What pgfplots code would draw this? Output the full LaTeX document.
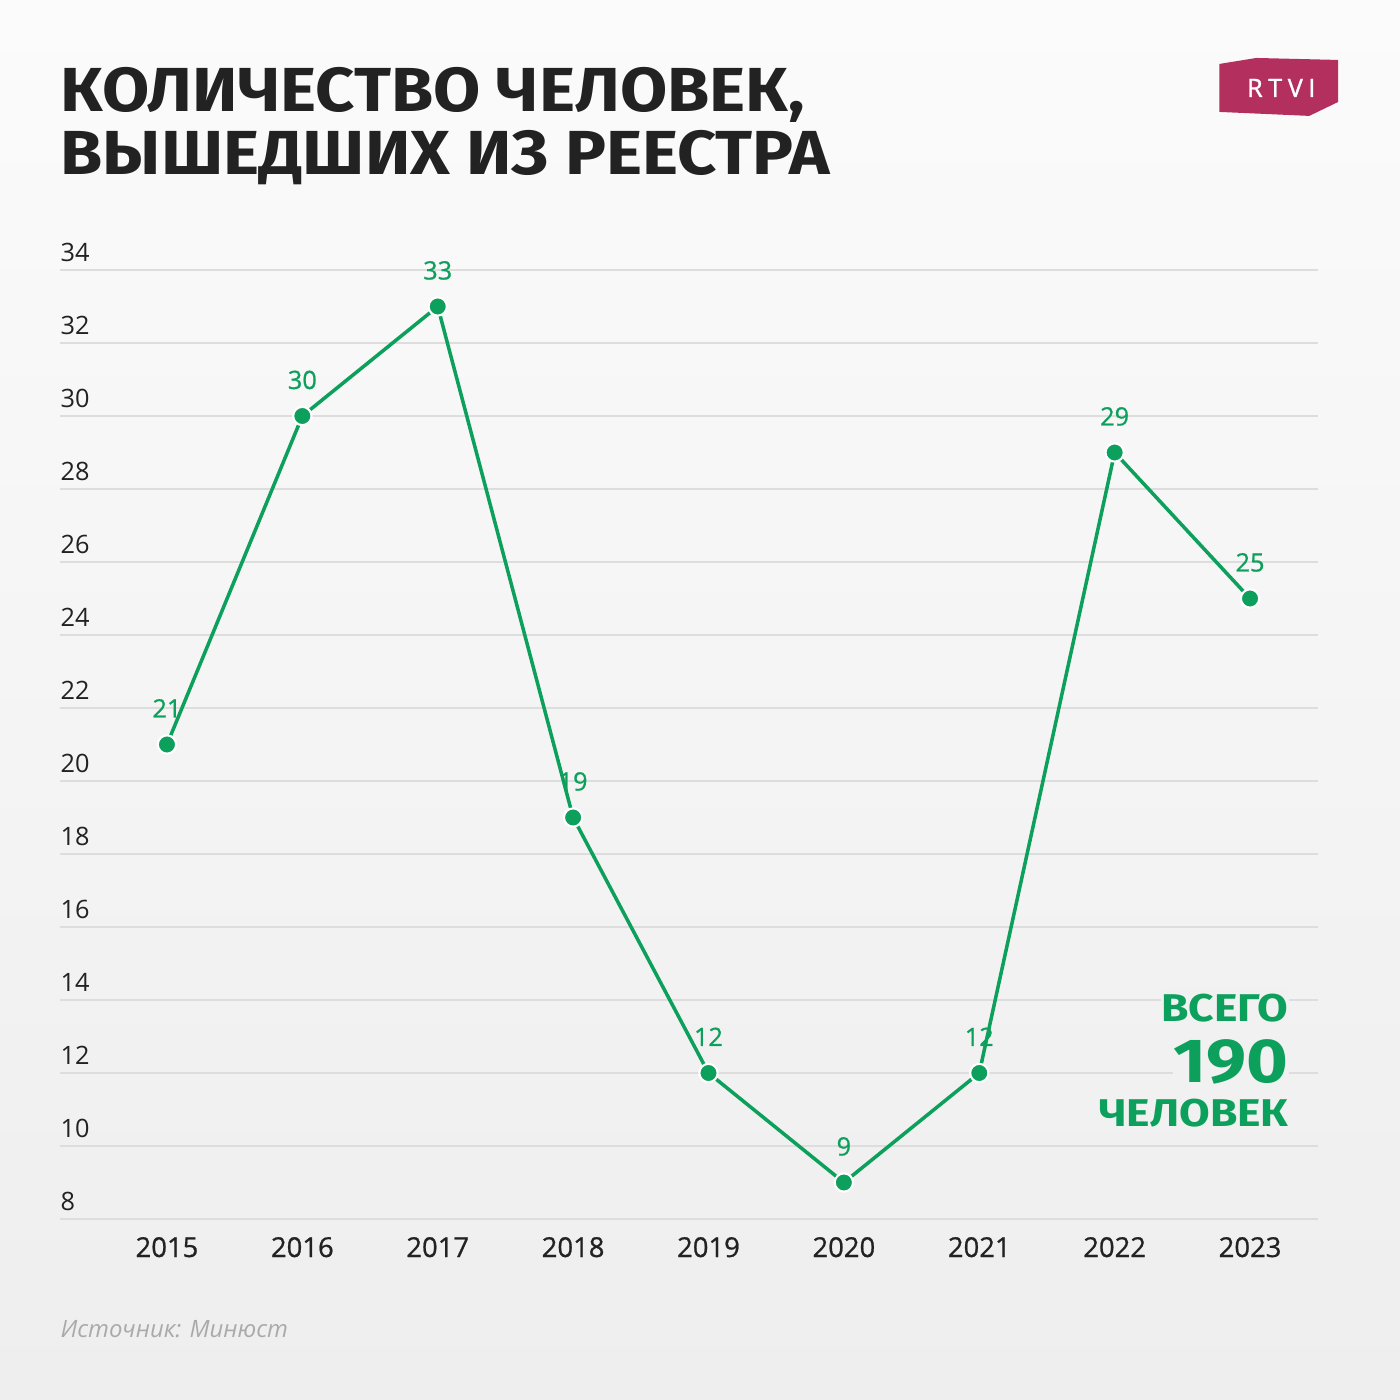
\documentclass[border=0pt]{standalone}
\usepackage{pgfplots}
\pgfplotsset{compat=1.18}
\usepackage{fontspec}
\setmainfont{Open Sans}
\newfontfamily\titlefont{Fira Sans}[FakeStretch=1.1]
\newfontfamily\totfont{Fira Sans}[FakeStretch=1.15]
\newfontfamily\osemi{Open Sans}[FakeBold=0.8]
\newfontfamily\logofont{Open Sans}[FakeBold=1.2, LetterSpace=22]
\definecolor{bgtop}{HTML}{FBFBFB}
\definecolor{bgbot}{HTML}{EEEEEE}
\definecolor{bgmid}{HTML}{F1F1F1}
\definecolor{gridc}{HTML}{DDDDDD}
\definecolor{textdark}{HTML}{222222}
\definecolor{grn}{HTML}{0DA05C}
\definecolor{logoc}{HTML}{B3305E}
\definecolor{srcgray}{HTML}{AAAAAA}
\begin{document}
\begin{tikzpicture}
\path[use as bounding box] (0,0) rectangle (14cm,14cm);
\shade[top color=bgtop, bottom color=bgbot] (0,0) rectangle (14cm,14cm);
\begin{axis}[
  at={(0.6cm,1.81cm)}, anchor=south west,
  scale only axis, width=12.58cm, height=9.49cm,
  xmin=-0.790, xmax=8.502, ymin=8, ymax=34,
  axis line style={draw=none},
  major tick length=0pt,
  ytick={8,10,...,34},
  xtick={0,...,8},
  xticklabels={2015,2016,2017,2018,2019,2020,2021,2022,2023},
  ymajorgrids, grid style={gridc, line width=0.6pt},
  /pgf/number format/assume math mode=true,
  yticklabel style={font=\fontsize{7.2}{8}\selectfont, text=textdark, anchor=south west, inner sep=0pt, yshift=0.08cm},
  xticklabel style={font=\osemi\fontsize{7.8}{8}\selectfont, text=textdark, anchor=base, inner sep=0pt, yshift=-0.38cm},
  clip=false,
  nodes near coords,
  nodes near coords style={font=\osemi\fontsize{7.2}{8}\selectfont, text=grn, anchor=base, inner sep=0pt, yshift=0.27cm},
]
\addplot[grn, line width=1pt, mark=*, mark size=2.6pt, mark options={fill=grn, draw=white, line width=0.6pt}]
coordinates {(0,21)(1,30)(2,33)(3,19)(4,12)(5,9)(6,12)(7,29)(8,25)};
\end{axis}
\begin{scope}[x=0.01cm, y=-0.01cm, shift={(0cm,14cm)}]
\node[anchor=base west, inner sep=0pt, text=textdark, font=\titlefont\bfseries\fontsize{17.7}{18}\selectfont] at (60,112) {КОЛИЧЕСТВО ЧЕЛОВЕК,};
\node[anchor=base west, inner sep=0pt, text=textdark, font=\titlefont\bfseries\fontsize{17.7}{18}\selectfont] at (60,175) {ВЫШЕДШИХ ИЗ РЕЕСТРА};
\fill[logoc] (1220,64) -- (1257,58) -- (1339,60) -- (1339,102) -- (1310,116) -- (1220,112) -- cycle;
\node[text=white, inner sep=0pt, anchor=center, font=\logofont\fontsize{7.2}{8}\selectfont] at (1282,88) {RTVI};
\node[anchor=base east, fill=bgmid, inner xsep=0pt, inner ysep=2pt, text=grn, font=\totfont\bfseries\fontsize{11}{12}\selectfont] at (1290,1022) {ВСЕГО};
\node[anchor=base east, fill=bgmid, inner xsep=0pt, inner ysep=2pt, text=grn, font=\totfont\bfseries\fontsize{17.7}{18}\selectfont] at (1290,1083) {190};
\node[anchor=base east, fill=bgmid, inner xsep=0pt, inner ysep=2pt, text=grn, font=\totfont\bfseries\fontsize{11}{12}\selectfont] at (1290,1127) {ЧЕЛОВЕК};
\node[anchor=base west, inner sep=0pt, text=srcgray, font=\itshape\fontsize{6.8}{8}\selectfont] at (60,1338) {Источник: Минюст};
\end{scope}
\end{tikzpicture}
\end{document}
